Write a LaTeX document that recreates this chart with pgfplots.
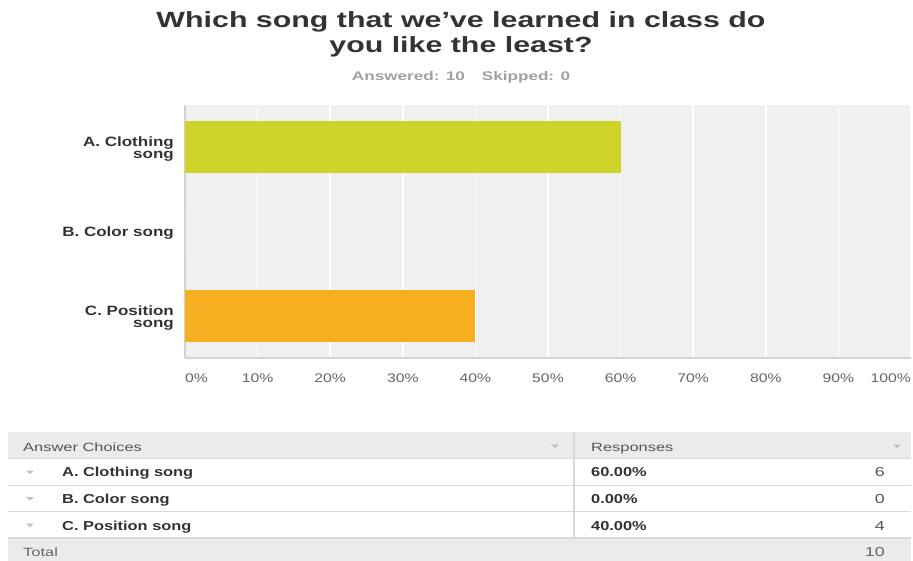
\documentclass[border=0pt]{standalone}
\usepackage{fontspec}
\setmainfont{Liberation Sans}
\newfontfamily\fA[FakeStretch=1.38]{Liberation Sans}
\newfontfamily\fB[FakeStretch=1.37]{Liberation Sans}
\newfontfamily\fC[FakeStretch=1.26]{Liberation Sans}
\usepackage{pgfplots}
\pgfplotsset{compat=1.18}
\definecolor{plotbg}{RGB}{240,240,240}
\definecolor{axisgray}{RGB}{210,210,210}
\definecolor{barA}{RGB}{206,212,42}
\definecolor{barC}{RGB}{246,175,32}
\definecolor{darktxt}{RGB}{51,51,51}
\definecolor{ticktxt}{RGB}{102,102,102}
\definecolor{subgray}{RGB}{160,160,160}
\definecolor{headbg}{RGB}{235,235,235}
\definecolor{linegray}{RGB}{217,217,217}
\definecolor{trigray}{RGB}{190,190,190}
\definecolor{headtxt}{RGB}{85,85,85}
\newcommand\tri[2]{\fill[trigray] (#1pt,-#2pt) ++(-4pt,1.5pt) -- ++(8pt,0pt) -- ++(-4pt,-3.5pt) -- cycle;}
\begin{document}
\begin{tikzpicture}
\path[use as bounding box] (0pt,0pt) rectangle (913pt,-561pt);
% title
\node[anchor=base,inner sep=0pt,text=darktxt] at (461pt,-28pt) {\fA\bfseries\fontsize{22}{25}\selectfont Which song that we’ve learned in class do};
\node[anchor=base,inner sep=0pt,text=darktxt] at (461pt,-52.5pt) {\fA\bfseries\fontsize{22}{25}\selectfont you like the least?};
\node[anchor=base,inner sep=0pt,text=subgray] at (461pt,-81pt) {\fB\bfseries\fontsize{12.5}{15}\selectfont Answered: 10\hspace{17pt}Skipped: 0};
\begin{axis}[
  at={(185pt,-358pt)}, anchor=south west,
  scale only axis, width=726pt, height=253pt,
  xbar, bar width=52pt, bar shift=0pt,
  xmin=0, xmax=100, ymin=-0.5, ymax=2.5, y dir=reverse,
  ytick={0,1,2},
  yticklabels={{A. Clothing\\song},{B. Color song},{C. Position\\song}},
  yticklabel style={align=right, inner sep=0pt, anchor=east, xshift=-11pt, yshift=-2pt,
    font=\fC\bfseries\fontsize{13.5}{12}\selectfont, text=darktxt},
  xtick={0,10,...,100},
  xticklabels={\makebox[0pt][l]{0\%},10\%,20\%,30\%,40\%,50\%,60\%,70\%,80\%,90\%,\makebox[0pt][r]{100\%}},
  xticklabel style={inner sep=0pt, anchor=north, yshift=-15.5pt,
    font=\fC\fontsize{12.5}{14}\selectfont, text=ticktxt},
  major tick length=0pt,
  xmajorgrids, major grid style={white, line width=1.5pt},
  axis background/.style={fill=plotbg},
  axis x line*=bottom, axis y line*=left,
  x axis line style={draw=axisgray, line width=2pt, -},
  y axis line style={draw=axisgray, line width=1.5pt, -},
  clip=false,
]
\addplot[fill=barA, draw=none] coordinates {(60,0)};
\addplot[fill=white, draw=none] coordinates {(0,1)};
\addplot[fill=barC, draw=none] coordinates {(40,2)};
\end{axis}
% table
\fill[headbg] (8pt,-432pt) rectangle (911pt,-458pt);
\draw[line width=1.5pt, draw=linegray] (8pt,-458.5pt) -- (911pt,-458.5pt);
\fill[headbg] (8pt,-538pt) rectangle (911pt,-561pt);
\draw[line width=1pt, draw=linegray] (8pt,-485pt) -- (911pt,-485pt);
\draw[line width=1pt, draw=linegray] (8pt,-511.5pt) -- (911pt,-511.5pt);
\draw[line width=1.2pt, draw=linegray] (8pt,-538pt) -- (911pt,-538pt);
\draw[line width=1.2pt, draw=linegray] (574pt,-432pt) -- (574pt,-538pt);
\tri{555}{446}
\tri{897}{446}
\tri{30}{472}
\tri{30}{498.5}
\tri{30}{525}
\node[anchor=base west,inner sep=0pt,text=headtxt] at (23pt,-451pt) {\fB\fontsize{12}{14}\selectfont Answer Choices};
\node[anchor=base west,inner sep=0pt,text=headtxt] at (591pt,-451pt) {\fB\fontsize{12}{14}\selectfont Responses};
\node[anchor=base west,inner sep=0pt,text=darktxt] at (62pt,-476.5pt) {\fC\bfseries\fontsize{13}{15}\selectfont A. Clothing song};
\node[anchor=base west,inner sep=0pt,text=darktxt] at (62pt,-503pt) {\fC\bfseries\fontsize{13}{15}\selectfont B. Color song};
\node[anchor=base west,inner sep=0pt,text=darktxt] at (62pt,-530pt) {\fC\bfseries\fontsize{13}{15}\selectfont C. Position song};
\node[anchor=base west,inner sep=0pt,text=darktxt] at (591pt,-476.5pt) {\fC\bfseries\fontsize{13}{15}\selectfont 60.00\%};
\node[anchor=base west,inner sep=0pt,text=darktxt] at (591pt,-503pt) {\fC\bfseries\fontsize{13}{15}\selectfont 0.00\%};
\node[anchor=base west,inner sep=0pt,text=darktxt] at (591pt,-530pt) {\fC\bfseries\fontsize{13}{15}\selectfont 40.00\%};
\node[anchor=base east,inner sep=0pt,text=headtxt] at (885pt,-476.5pt) {\fB\fontsize{13}{15}\selectfont 6};
\node[anchor=base east,inner sep=0pt,text=headtxt] at (885pt,-503pt) {\fB\fontsize{13}{15}\selectfont 0};
\node[anchor=base east,inner sep=0pt,text=headtxt] at (885pt,-530pt) {\fB\fontsize{13}{15}\selectfont 4};
\node[anchor=base west,inner sep=0pt,text=ticktxt] at (23pt,-556pt) {\fB\fontsize{12}{14}\selectfont Total};
\node[anchor=base east,inner sep=0pt,text=ticktxt] at (885pt,-556pt) {\fB\fontsize{13}{15}\selectfont 10};
\end{tikzpicture}
\end{document}
